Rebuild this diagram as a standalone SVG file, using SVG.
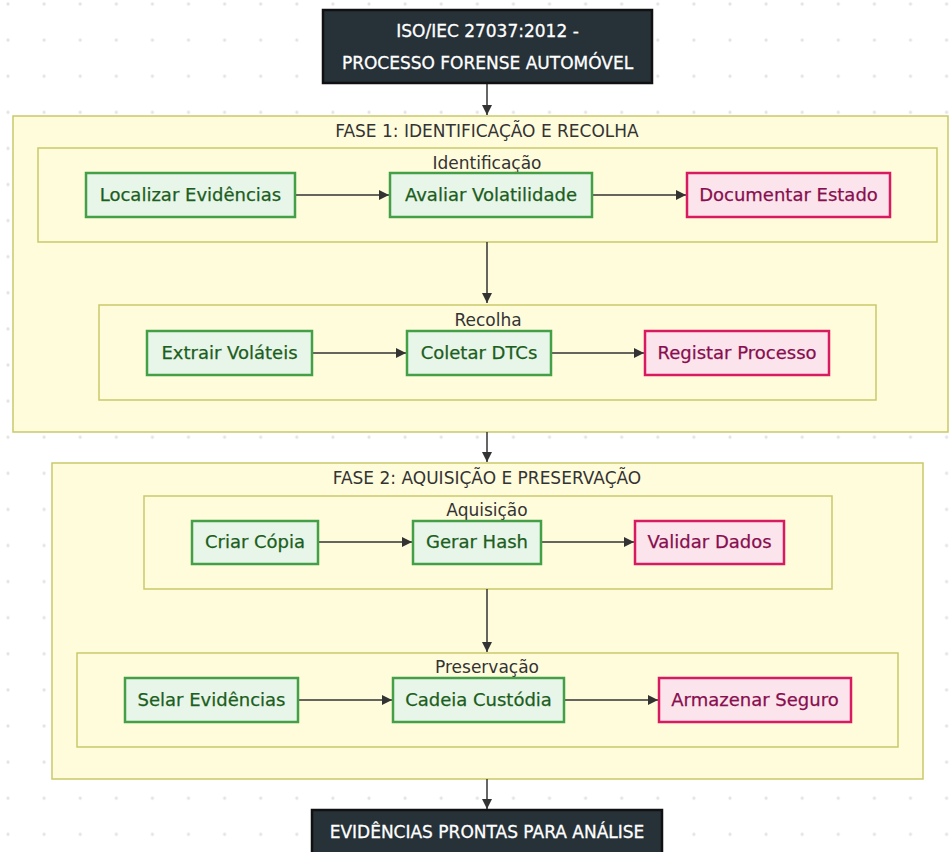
<svg xmlns="http://www.w3.org/2000/svg" width="949" height="852" viewBox="0 0 949 852">
<defs>
<pattern id="dots" x="8" y="4" width="36.1" height="36.1" patternUnits="userSpaceOnUse">
<circle cx="0" cy="0" r="1.6" fill="#e3e3e3"/><circle cx="36.1" cy="0" r="1.6" fill="#e3e3e3"/><circle cx="0" cy="36.1" r="1.6" fill="#e3e3e3"/><circle cx="36.1" cy="36.1" r="1.6" fill="#e3e3e3"/>
</pattern>
<marker id="arr" viewBox="0 0 10 10" refX="10" refY="5" markerWidth="10" markerHeight="10" markerUnits="userSpaceOnUse" orient="auto">
<path d="M0,0 L10,5 L0,10 z" fill="#333"/>
</marker>
<style>
text{font-family:"DejaVu Sans","Liberation Sans",sans-serif;}
.cl{fill:#fffcdc;stroke:#c9c96a;stroke-width:1.5;}
.ct{fill:#333;font-size:17px;text-anchor:middle;}
.g rect{fill:#e8f5e9;stroke:#43a047;stroke-width:2.5;}
.g text{fill:#1b5e20;font-size:18px;text-anchor:middle;stroke:#1b5e20;stroke-width:0.25;}
.p rect{fill:#fce4ec;stroke:#d81b60;stroke-width:2.5;}
.p text{fill:#880e4f;font-size:18px;text-anchor:middle;stroke:#880e4f;stroke-width:0.25;}
.d rect{fill:#263238;stroke:#111;stroke-width:2.5;}
.d text{fill:#fff;font-size:17px;text-anchor:middle;stroke:#fff;stroke-width:0.3;}
.e{stroke:#333;stroke-width:1.5;fill:none;marker-end:url(#arr);}
</style>
</defs>
<rect width="949" height="852" fill="#fff"/>
<rect width="949" height="852" fill="url(#dots)"/>

<g id="fase1"><rect class="cl" x="13" y="116" width="935" height="316"/><text class="ct" x="487" y="137">FASE 1: IDENTIFICAÇÃO E RECOLHA</text></g>
<g id="identificacao"><rect class="cl" x="38" y="148" width="899" height="94"/><text class="ct" x="487" y="169">Identificação</text></g>
<g id="recolha"><rect class="cl" x="99" y="305" width="777" height="95"/><text class="ct" x="488" y="326">Recolha</text></g>
<g id="fase2"><rect class="cl" x="52" y="463" width="871" height="316"/><text class="ct" x="487" y="484">FASE 2: AQUISIÇÃO E PRESERVAÇÃO</text></g>
<g id="aquisicao"><rect class="cl" x="144" y="496" width="688" height="93"/><text class="ct" x="487" y="516">Aquisição</text></g>
<g id="preservacao"><rect class="cl" x="77" y="653" width="821" height="94"/><text class="ct" x="487" y="673">Preservação</text></g>

<g id="connectors">
<path class="e" d="M487,83 V115"/>
<path class="e" d="M295,195 H389"/>
<path class="e" d="M592,195 H686"/>
<path class="e" d="M487,242 V303"/>
<path class="e" d="M312,353 H406"/>
<path class="e" d="M551,353 H644"/>
<path class="e" d="M487,432 V462"/>
<path class="e" d="M318,542 H412"/>
<path class="e" d="M541,542 H634"/>
<path class="e" d="M487,589 V652"/>
<path class="e" d="M298,700 H392"/>
<path class="e" d="M564,700 H658"/>
<path class="e" d="M487,779 V809"/>
</g>

<g id="inicio" class="d"><rect x="323" y="10" width="329" height="73"/><text x="487.5" y="37">ISO/IEC 27037:2012 -</text><text x="487.5" y="69">PROCESSO FORENSE AUTOMÓVEL</text></g>
<g id="localizar" class="g"><rect x="86" y="173" width="209" height="44"/><text x="190.5" y="201">Localizar Evidências</text></g>
<g id="avaliar" class="g"><rect x="390" y="173" width="202" height="44"/><text x="491" y="201">Avaliar Volatilidade</text></g>
<g id="documentar" class="p"><rect x="687" y="173" width="203" height="44"/><text x="788.5" y="201">Documentar Estado</text></g>
<g id="extrair" class="g"><rect x="147" y="331" width="165" height="44"/><text x="229.5" y="359">Extrair Voláteis</text></g>
<g id="coletar" class="g"><rect x="407" y="331" width="144" height="44"/><text x="479" y="359">Coletar DTCs</text></g>
<g id="registar" class="p"><rect x="645" y="331" width="184" height="44"/><text x="737" y="359">Registar Processo</text></g>
<g id="criar" class="g"><rect x="192" y="521" width="126" height="43"/><text x="255" y="548">Criar Cópia</text></g>
<g id="gerar" class="g"><rect x="413" y="521" width="128" height="43"/><text x="477" y="548">Gerar Hash</text></g>
<g id="validar" class="p"><rect x="635" y="521" width="149" height="43"/><text x="709.5" y="548">Validar Dados</text></g>
<g id="selar" class="g"><rect x="125" y="678" width="173" height="44"/><text x="211.5" y="706">Selar Evidências</text></g>
<g id="cadeia" class="g"><rect x="393" y="678" width="171" height="44"/><text x="478.5" y="706">Cadeia Custódia</text></g>
<g id="armazenar" class="p"><rect x="659" y="678" width="192" height="44"/><text x="755" y="706">Armazenar Seguro</text></g>
<g id="fim" class="d"><rect x="312" y="810" width="350" height="60"/><text x="487" y="838">EVIDÊNCIAS PRONTAS PARA ANÁLISE</text></g>
</svg>
